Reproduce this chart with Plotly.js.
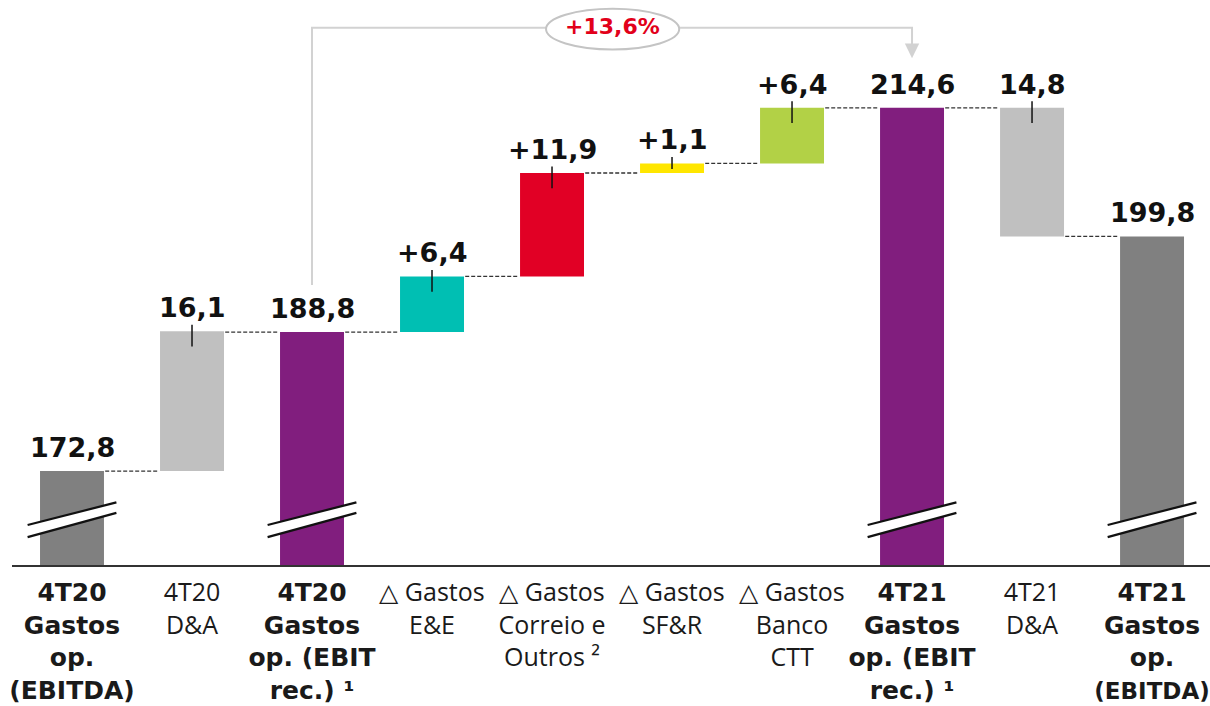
<!DOCTYPE html>
<html>
<head>
<meta charset="utf-8">
<script src="https://cdn.plot.ly/plotly-3.0.1.min.js"></script>
<style>html,body{margin:0;padding:0;background:#fff;overflow:hidden;}#chart{width:1210px;height:706px;}</style>
</head>
<body>
<div id="chart"></div>
<script>
// ---- data ----
const categoryLines = [
  ['4T20', 'Gastos', 'op.', '(EBITDA)'],
  ['4T20', 'D&A'],
  ['4T20', 'Gastos', 'op. (EBIT', 'rec.) ¹'],
  ['△ Gastos', 'E&E'],
  ['△ Gastos', 'Correio e', 'Outros ²'],
  ['△ Gastos', 'SF&R'],
  ['△ Gastos', 'Banco', 'CTT'],
  ['4T21', 'Gastos', 'op. (EBIT', 'rec.) ¹'],
  ['4T21', 'D&A'],
  ['4T21', 'Gastos', 'op.', '(EBITDA)']
];
const boldCategory = [true, false, true, false, false, false, false, true, false, true];
const values = [172.8, 16.1, 188.8, 6.4, 11.9, 1.1, 6.4, 214.6, -14.8, 199.8];
const kinds = ['total', 'delta', 'total', 'delta', 'delta', 'delta', 'delta', 'total', 'delta', 'total'];
const valueLabels = ['172,8', '16,1', '188,8', '+6,4', '+11,9', '+1,1', '+6,4', '214,6', '14,8', '199,8'];
const barColors = ['#808080', '#c0c0c0', '#811e7e', '#00bfb3', '#e10025', '#ffe600', '#b2d146', '#811e7e', '#c0c0c0', '#808080'];
const growthLabel = '+13,6%';
const growthFrom = 2, growthTo = 7;
const axisMin = 162, axisMax = 227;

// ---- derived geometry ----
const xs = values.map((v, i) => i);
const bases = [], heights = [], tops = [];
let running = 0;
values.forEach((v, i) => {
  if (kinds[i] === 'total') {
    bases.push(axisMin); heights.push(v - axisMin); tops.push(v); running = v;
  } else {
    const b = v >= 0 ? running : running + v;
    bases.push(b); heights.push(Math.abs(v)); tops.push(b + Math.abs(v)); running += v;
  }
});
const levelAfter = [];
running = 0;
values.forEach((v, i) => { running = kinds[i] === 'total' ? v : running + v; levelAfter.push(running); });

const BW = 0.533;
const shapes = [];
const annotations = [];

// connectors
for (let i = 0; i < values.length - 1; i++) {
  const lvl = kinds[i + 1] === 'total' ? values[i + 1] : levelAfter[i];
  shapes.push({type: 'line', xref: 'x', yref: 'y', x0: i + BW / 2 + 0.01, x1: i + 1 - BW / 2 - 0.01,
    y0: lvl, y1: lvl, line: {color: '#333', width: 1.3, dash: '4px,2px'}});
}
// tick marks at delta tops
values.forEach((v, i) => {
  if (kinds[i] === 'delta') {
    shapes.push({type: 'line', xref: 'x', yref: 'y', x0: i, x1: i, y0: tops[i] + 0.75,
      y1: Math.max(tops[i] - 1.75, bases[i] + 0.45),
      line: {color: '#111', width: 1.5}});
  }
});
// axis break symbols on totals
values.forEach((v, i) => {
  if (kinds[i] === 'total') {
    const L = i - 0.37, R = i + 0.37;
    const a1 = axisMin + 4.6, a2 = axisMin + 7.2, b1 = axisMin + 3.2, b2 = axisMin + 6.0;
    shapes.push({type: 'path', xref: 'x', yref: 'y',
      path: `M${L},${a1} L${R},${a2} L${R},${b2} L${L},${b1} Z`, fillcolor: '#fff', line: {width: 0}});
    shapes.push({type: 'line', xref: 'x', yref: 'y', x0: L, x1: R, y0: a1, y1: a2, line: {color: '#111', width: 2.2}});
    shapes.push({type: 'line', xref: 'x', yref: 'y', x0: L, x1: R, y0: b1, y1: b2, line: {color: '#111', width: 2.2}});
  }
});
// growth bracket
const bracketY = 223.8;
const gColor = '#d2d2d2';
shapes.push({type: 'path', xref: 'x', yref: 'y',
  path: `M${growthFrom},${values[growthFrom] + 5.4} L${growthFrom},${bracketY} L${growthTo},${bracketY} L${growthTo},${values[growthTo] + 7.3}`,
  line: {color: gColor, width: 2}});
shapes.push({type: 'path', xref: 'x', yref: 'y',
  path: `M${growthTo - 0.06},${values[growthTo] + 7.4} L${growthTo + 0.06},${values[growthTo] + 7.4} L${growthTo},${values[growthTo] + 5.7} Z`,
  fillcolor: gColor, line: {width: 0}});
shapes.push({type: 'circle', xref: 'x', yref: 'y', x0: (growthFrom + growthTo) / 2 - 0.55, x1: (growthFrom + growthTo) / 2 + 0.56,
  y0: 221.3, y1: 226.0, fillcolor: '#fff', line: {color: '#c4c4c4', width: 2}});
annotations.push({xref: 'x', yref: 'y', x: (growthFrom + growthTo) / 2, y: bracketY, text: '<b>' + growthLabel + '</b>',
  showarrow: false, font: {family: 'DejaVu Sans', size: 22, color: '#e2001a'}, yshift: 1});

// value labels
values.forEach((v, i) => {
  annotations.push({xref: 'x', yref: 'y', x: i, y: tops[i], yanchor: 'bottom', yshift: 6,
    text: '<b>' + valueLabels[i] + '</b>', showarrow: false,
    font: {family: 'DejaVu Sans', size: 27, color: '#111'}});
});

const lastIdx = categoryLines.length - 1;
const tickText = categoryLines.map((lines, i) => lines.map((l, j) => {
  if (!boldCategory[i]) return l;
  // the last label sits at the page edge: its widest line is set a touch smaller so it stays inside
  const fs = (i === lastIdx && j === lines.length - 1) ? 'font-size:23px;' : '';
  return '<span style="font-family:DejaVu Sans;font-weight:bold;' + fs + '">' + l + '</span>';
}).join('<br>'));

const trace = {
  type: 'bar', x: xs, y: heights, base: bases, width: BW,
  marker: {color: barColors, line: {width: 0}}, hoverinfo: 'skip'
};

const layout = {
  width: 1210, height: 706,
  margin: {l: 12, r: 0, t: 0, b: 141},
  paper_bgcolor: '#fff', plot_bgcolor: '#fff',
  showlegend: false,
  xaxis: {range: [-0.5, 9.483], tickvals: xs, ticktext: tickText, showgrid: false, zeroline: false,
    showline: true, linecolor: '#333', linewidth: 2, ticks: '', fixedrange: true,
    ticklabeloverflow: 'allow', ticklabelstandoff: 4,
    tickfont: {family: 'Open Sans', size: 25, color: '#1a1a1a'}},
  yaxis: {range: [axisMin, axisMax], visible: false, fixedrange: true},
  shapes: shapes, annotations: annotations
};

Plotly.newPlot('chart', [trace], layout, {staticPlot: true});
</script>
</body>
</html>
